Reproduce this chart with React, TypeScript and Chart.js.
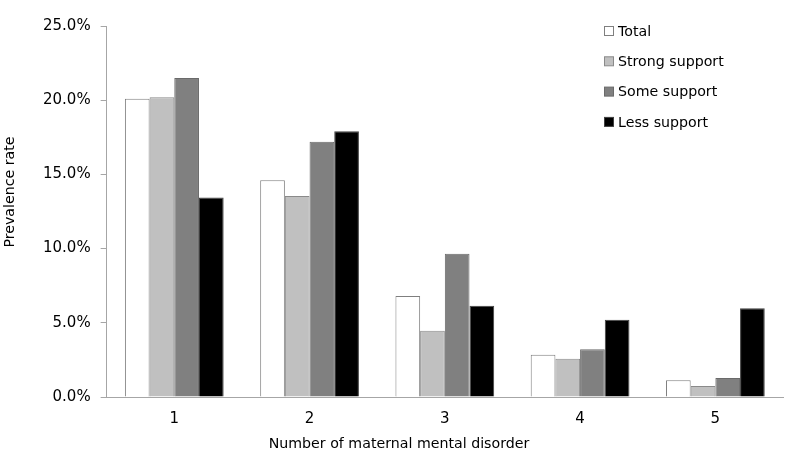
import React, { useEffect, useRef } from "react";
import { Chart, registerables } from "chart.js";

Chart.register(...registerables);

const categories = ["1", "2", "3", "4", "5"];
const seriesNames = ["Total", "Strong support", "Some support", "Less support"];
const totalValues = [20.1, 14.6, 6.8, 2.84, 1.13];
const strongValues = [20.2, 13.55, 4.46, 2.57, 0.74];
const someValues = [21.5, 17.2, 9.66, 3.22, 1.28];
const lessValues = [13.45, 17.9, 6.15, 5.2, 5.98];
const fillColors = ["#ffffff", "#c0c0c0", "#808080", "#000000"];
const edgeColors = ["#7f7f7f", "#8a8a8a", "#6a6a6a", "#404040"];
const yTickMax = 25;
const yTickStep = 5;
const xTitle = "Number of maternal mental disorder";
const yTitle = "Prevalence rate";

const FONT = "'DejaVu Sans', Verdana, sans-serif";

const overlayPlugin = {
  id: "overlay",
  afterDraw(chart: any) {
    const ctx = chart.ctx;
    ctx.save();
    ctx.font = `14.2px ${FONT}`;
    ctx.textBaseline = "middle";
    ctx.textAlign = "left";
    const x0 = 604;
    const y0 = 31;
    chart.data.datasets.forEach((ds: any, i: number) => {
      const y = y0 + i * 30.3;
      ctx.fillStyle = ds.backgroundColor;
      ctx.fillRect(x0 + 0.5, y - 4.5, 9, 9);
      ctx.strokeStyle = ds.borderColor;
      ctx.lineWidth = 1;
      ctx.strokeRect(x0 + 0.5, y - 4.5, 9, 9);
      ctx.fillStyle = "#000";
      ctx.fillText(ds.label, x0 + 14, y + 1);
    });
    // axis titles
    ctx.textAlign = "center";
    ctx.fillStyle = "#000";
    ctx.fillText(xTitle, 399, 444);
    ctx.translate(10, 192);
    ctx.rotate(-Math.PI / 2);
    ctx.fillText(yTitle, 0, 0);
    ctx.restore();
  },
};

export default function App() {
  const ref = useRef<HTMLCanvasElement>(null);
  useEffect(() => {
    document.body.style.margin = "0";
    const values = [totalValues, strongValues, someValues, lessValues];
    const chart = new Chart(ref.current!, {
      type: "bar",
      data: {
        labels: categories,
        datasets: seriesNames.map((name, i) => ({
          label: name,
          data: values[i],
          backgroundColor: fillColors[i],
          borderColor: edgeColors[i],
          borderWidth: 1,
          categoryPercentage: 0.73,
          barPercentage: 1,
        })),
      },
      options: {
        animation: false,
        responsive: false,
        maintainAspectRatio: false,
        layout: { padding: { top: 26, right: 3, bottom: 17, left: 33 } },
        plugins: {
          legend: { display: false },
          tooltip: { enabled: false },
        },
        scales: {
          x: {
            grid: { display: false, drawTicks: false },
            border: { display: true, color: "#a6a6a6", width: 1 },
            ticks: {
              color: "#000",
              font: { family: FONT, size: 15 },
              padding: 13,
            },
          },
          y: {
            min: 0,
            max: yTickMax,
            grid: {
              drawOnChartArea: false,
              drawTicks: true,
              tickLength: 6,
              color: "#a6a6a6",
            },
            border: { display: true, color: "#a6a6a6", width: 1 },
            ticks: {
              stepSize: yTickStep,
              color: "#000",
              font: { family: FONT, size: 15 },
              padding: 10,
              callback: (v: any) => Number(v).toFixed(1) + "%",
            },
          },
        },
      },
      plugins: [overlayPlugin],
    });
    return () => chart.destroy();
  }, []);
  return (
    <div style={{ width: 786, height: 458, background: "#fff" }}>
      <canvas ref={ref} width={786} height={458} style={{ display: "block" }} />
    </div>
  );
}
